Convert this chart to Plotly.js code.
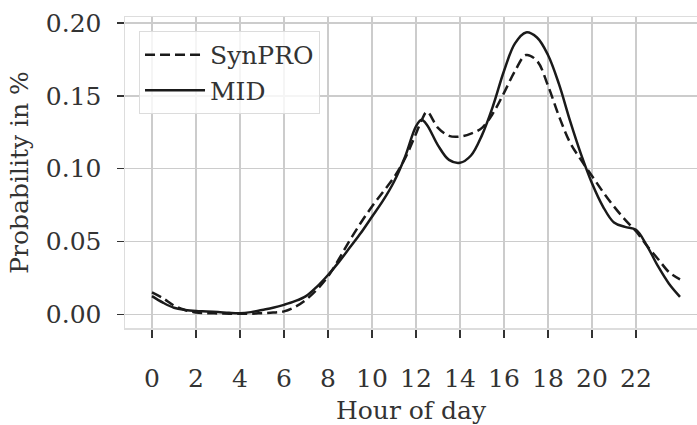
<!DOCTYPE html>
<html>
<head>
<meta charset="utf-8">
<script src="https://cdn.plot.ly/plotly-3.0.1.min.js"></script>
<style>html,body{margin:0;padding:0;background:#fff;}#chart{width:697px;height:425px;}</style>
</head>
<body>
<div id="chart"></div>
<script>
// Hour of day
const hours = [0,0.5,1,1.5,2,2.5,3,3.5,4,4.5,5,5.5,6,6.5,7,7.5,8,8.5,9,9.5,10,10.5,11,11.5,12,12.25,12.5,13,13.5,14,14.5,15,15.5,16,16.5,17,17.5,18,18.5,19,19.5,20,20.5,21,21.5,22,22.5,23,23.5,24];
// SynPRO (dashed)
const synpro = [0.015,0.011,0.006,0.003,0.0012,0.0008,0.0006,0.0004,0.0003,0.0004,0.0008,0.0012,0.002,0.005,0.010,0.017,0.026,0.038,0.051,0.063,0.074,0.084,0.094,0.107,0.124,0.133,0.139,0.128,0.1225,0.122,0.124,0.128,0.138,0.152,0.167,0.178,0.174,0.157,0.136,0.118,0.106,0.095,0.084,0.074,0.065,0.057,0.047,0.038,0.029,0.024];
// MID (solid)
const mid = [0.0125,0.008,0.0045,0.003,0.0023,0.002,0.0016,0.001,0.0007,0.0015,0.003,0.0045,0.0065,0.009,0.0125,0.019,0.027,0.036,0.046,0.056,0.067,0.078,0.091,0.108,0.129,0.1335,0.130,0.116,0.106,0.104,0.109,0.123,0.143,0.167,0.186,0.1935,0.190,0.178,0.158,0.133,0.110,0.090,0.074,0.063,0.060,0.058,0.047,0.033,0.021,0.012];
const xTicks = [0,2,4,6,8,10,12,14,16,18,20,22];
const yTicks = [0,0.05,0.10,0.15,0.20];
const yTickText = ['0.00','0.05','0.10','0.15','0.20'];

const font = {family: 'DejaVu Serif, serif', size: 25, color: '#333'};
const traces = [
  {x: hours, y: synpro, name: 'SynPRO', mode: 'lines',
   line: {color: '#1a1a1a', width: 2.5, dash: '10px,5px', shape: 'spline', smoothing: 1}},
  {x: hours, y: mid, name: 'MID', mode: 'lines',
   line: {color: '#1a1a1a', width: 2.5, shape: 'spline', smoothing: 1}}
];
const layout = {
  width: 697, height: 425,
  margin: {l: 125, r: 0, t: 17, b: 97},
  paper_bgcolor: '#fff', plot_bgcolor: '#fff',
  font: font,
  showlegend: true,
  legend: {x: 0.0245, y: 0.955, xanchor: 'left', yanchor: 'top',
    bgcolor: 'rgba(255,255,255,0.8)', bordercolor: '#dcdcdc', borderwidth: 1,
    font: font, itemwidth: 60},
  xaxis: {range: [-1.227, 24.773], tickvals: xTicks, ticktext: xTicks.map(String),
    showgrid: true, gridcolor: '#cccccc', gridwidth: 1.5, zeroline: false,
    showline: true, linecolor: '#dddddd', linewidth: 1.5, mirror: true,
    ticks: 'outside', ticklen: 8, tickwidth: 1.5, tickcolor: '#333',
    ticklabelstandoff: 19, tickfont: font,
    title: {text: 'Hour of day', font: font, standoff: 10}},
  yaxis: {range: [-0.0094, 0.2041], tickvals: yTicks, ticktext: yTickText,
    showgrid: true, gridcolor: '#cccccc', gridwidth: 1.5, zeroline: false,
    showline: true, linecolor: '#dddddd', linewidth: 1.5, mirror: true,
    ticks: 'outside', ticklen: 7, tickwidth: 1.5, tickcolor: '#333',
    ticklabelstandoff: 10, tickfont: font,
    title: {text: 'Probability in %', font: font, standoff: 10}}
};
Plotly.newPlot('chart', traces, layout, {displayModeBar: false, staticPlot: true});
</script>
</body>
</html>
